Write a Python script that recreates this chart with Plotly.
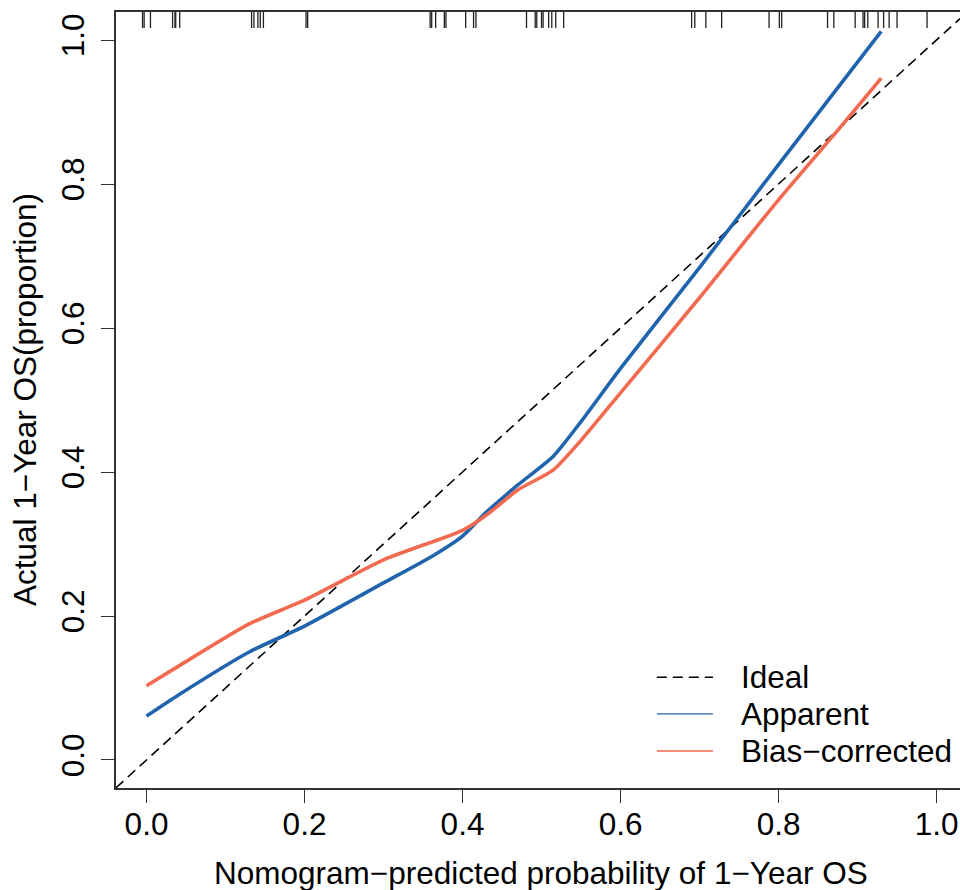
import numpy as np
import plotly.graph_objects as go

# ---- data ----
apparent_x = [0.0, 0.04, 0.13, 0.20, 0.30, 0.36, 0.40, 0.43, 0.47, 0.515, 0.55, 0.60, 0.70, 0.80, 0.93]
apparent_y = [0.061, 0.090, 0.150, 0.186, 0.246, 0.282, 0.311, 0.344, 0.382, 0.422, 0.470, 0.544, 0.684, 0.827, 1.012]

bias_x = [0.0, 0.04, 0.13, 0.20, 0.30, 0.40, 0.43, 0.47, 0.515, 0.55, 0.60, 0.70, 0.80, 0.88, 0.93]
bias_y = [0.103, 0.130, 0.189, 0.222, 0.278, 0.319, 0.340, 0.375, 0.403, 0.444, 0.510, 0.642, 0.778, 0.881, 0.947]

rug_x = [-0.005, -0.003, 0.005, 0.033, 0.036, 0.037, 0.042, 0.133, 0.136, 0.141, 0.144, 0.148,
         0.202, 0.204, 0.359, 0.361, 0.366, 0.377, 0.379, 0.404, 0.414, 0.417, 0.481, 0.492,
         0.494, 0.500, 0.502, 0.509, 0.513, 0.518, 0.528, 0.690, 0.694, 0.708, 0.728, 0.788,
         0.801, 0.804, 0.862, 0.870, 0.897, 0.907, 0.909, 0.913, 0.926, 0.933, 0.940, 0.950, 0.988]

tick_vals = [0.0, 0.2, 0.4, 0.6, 0.8, 1.0]
tick_text = ["0.0", "0.2", "0.4", "0.6", "0.8", "1.0"]
legend_labels = ["Ideal", "Apparent", "Bias\u2212corrected"]

BLUE = "#2064AE"
RED = "#F26A4F"
FONT = "Liberation Sans, Arial, sans-serif"
FS = 31.5

XR = [-0.0386, 1.0297]
YR = [-0.0389, 1.0389]

fig = go.Figure()

# ideal line
fig.add_trace(go.Scatter(x=XR, y=[XR[0], XR[1]], mode="lines",
                         line=dict(color="black", width=1.6, dash="10px,6px"),
                         showlegend=False, hoverinfo="skip"))
# apparent
fig.add_trace(go.Scatter(x=apparent_x, y=apparent_y, mode="lines",
                         line=dict(color=BLUE, width=3.6, shape="spline", smoothing=0.6),
                         showlegend=False))
# bias corrected
fig.add_trace(go.Scatter(x=bias_x, y=bias_y, mode="lines",
                         line=dict(color=RED, width=3.6, shape="spline", smoothing=0.6),
                         showlegend=False))

# rug at top
rug_len = 16 / 720.0
rx, ry = [], []
for v in rug_x:
    rx += [v, v, None]
    ry += [YR[1], YR[1] - rug_len, None]
fig.add_trace(go.Scatter(x=rx, y=ry, mode="lines", line=dict(color="#222222", width=1.3),
                         showlegend=False, hoverinfo="skip"))

# manual legend
leg_y = [0.115, 0.064, 0.0125]
leg_style = [dict(color="black", width=1.6, dash="10px,6px"),
             dict(color=BLUE, width=1.3),
             dict(color=RED, width=1.3)]
for lab, yy, st in zip(legend_labels, leg_y, leg_style):
    fig.add_trace(go.Scatter(x=[0.646, 0.717], y=[yy, yy], mode="lines", line=st,
                             showlegend=False, hoverinfo="skip"))
    fig.add_annotation(x=0.754, y=yy, xref="x", yref="y", text=lab, showarrow=False,
                       xanchor="left", yanchor="middle", xshift=-3,
                       font=dict(family=FONT, size=FS, color="black"))

fig.add_annotation(x=0.504, y=-0.1095, xref="paper", yref="paper",
                   text="Nomogram\u2212predicted probability of 1\u2212Year OS", showarrow=False,
                   xanchor="center", yanchor="middle", font=dict(family=FONT, size=FS, color="black"))
fig.add_annotation(x=-0.1078, y=0.5, xref="paper", yref="paper",
                   text="Actual 1\u2212Year OS(proportion)", showarrow=False, textangle=-90,
                   xanchor="center", yanchor="middle", font=dict(family=FONT, size=FS, color="black"))

fig.update_xaxes(range=XR, tickvals=tick_vals, ticktext=tick_text, ticks="outside", ticklen=13,
                 tickwidth=1.3, tickcolor="#333333", showline=True, linecolor="#333333", linewidth=1.6,
                 mirror=True, showgrid=False, zeroline=False,
                 tickfont=dict(family=FONT, size=FS, color="black"), ticklabelstandoff=-6)
fig.update_yaxes(range=YR, tickvals=tick_vals, ticktext=tick_text, ticks="outside", ticklen=13,
                 tickwidth=1.3, tickcolor="#333333", showline=True, linecolor="#333333", linewidth=1.6,
                 mirror=False, showgrid=False, zeroline=False, tickangle=-90,
                 tickfont=dict(family=FONT, size=FS, color="black"), ticklabelstandoff=5)

fig.update_layout(width=960, height=890, margin=dict(l=116, r=0, t=12, b=102),
                  plot_bgcolor="white", paper_bgcolor="white", showlegend=False)

# remove the page's default body margin so the figure sits at the window origin
fig.write_html("out.html", config={"displayModeBar": False},
               post_script="document.body.style.margin='0';document.body.style.overflow='hidden';")
